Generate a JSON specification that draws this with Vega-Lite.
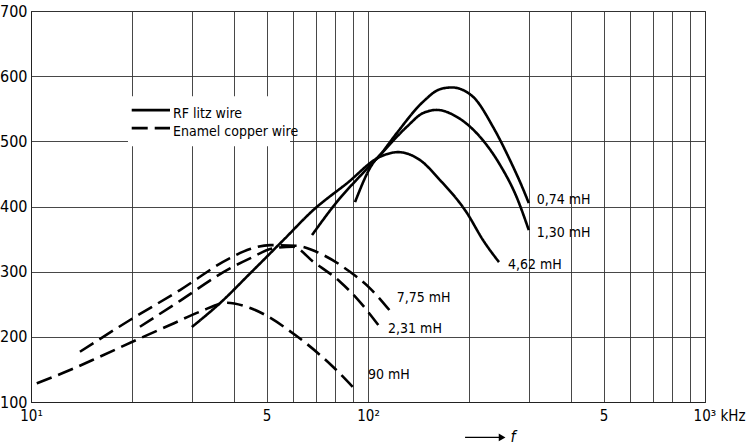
{
  "$schema": "https://vega.github.io/schema/vega-lite/v6.json",
  "width": 674,
  "height": 391,
  "autosize": {"type": "none"},
  "padding": {"left": 31, "top": 11, "right": 41, "bottom": 45},
  "background": "white",
  "config": {
    "view": {"stroke": "#222", "strokeWidth": 1},
    "font": "DejaVu Sans Condensed, DejaVu Sans, sans-serif"
  },
  "datasets": {
    "curves": [
      {"curve": "0,74 mH", "type": "RF litz wire", "f": 91.5, "L": 406.7},
      {"curve": "0,74 mH", "type": "RF litz wire", "f": 103.5, "L": 466.6},
      {"curve": "0,74 mH", "type": "RF litz wire", "f": 108.5, "L": 478.8},
      {"curve": "0,74 mH", "type": "RF litz wire", "f": 121.7, "L": 512.6},
      {"curve": "0,74 mH", "type": "RF litz wire", "f": 145.6, "L": 560.6},
      {"curve": "0,74 mH", "type": "RF litz wire", "f": 163.6, "L": 580.0},
      {"curve": "0,74 mH", "type": "RF litz wire", "f": 177.2, "L": 582.7},
      {"curve": "0,74 mH", "type": "RF litz wire", "f": 205.0, "L": 568.3},
      {"curve": "0,74 mH", "type": "RF litz wire", "f": 234.9, "L": 522.2},
      {"curve": "0,74 mH", "type": "RF litz wire", "f": 263.8, "L": 471.2},
      {"curve": "0,74 mH", "type": "RF litz wire", "f": 288.4, "L": 427.0},
      {"curve": "0,74 mH", "type": "RF litz wire", "f": 300.0, "L": 405.2},

      {"curve": "1,30 mH", "type": "RF litz wire", "f": 68.2, "L": 356.1},
      {"curve": "1,30 mH", "type": "RF litz wire", "f": 82.6, "L": 412.9},
      {"curve": "1,30 mH", "type": "RF litz wire", "f": 94.7, "L": 446.6},
      {"curve": "1,30 mH", "type": "RF litz wire", "f": 108.5, "L": 478.8},
      {"curve": "1,30 mH", "type": "RF litz wire", "f": 130.3, "L": 522.2},
      {"curve": "1,30 mH", "type": "RF litz wire", "f": 145.6, "L": 543.3},
      {"curve": "1,30 mH", "type": "RF litz wire", "f": 159.9, "L": 548.2},
      {"curve": "1,30 mH", "type": "RF litz wire", "f": 183.4, "L": 537.6},
      {"curve": "1,30 mH", "type": "RF litz wire", "f": 214.9, "L": 506.9},
      {"curve": "1,30 mH", "type": "RF litz wire", "f": 246.4, "L": 464.0},
      {"curve": "1,30 mH", "type": "RF litz wire", "f": 276.3, "L": 414.0},
      {"curve": "1,30 mH", "type": "RF litz wire", "f": 300.0, "L": 363.8},

      {"curve": "4,62 mH", "type": "RF litz wire", "f": 30.0, "L": 215.0},
      {"curve": "4,62 mH", "type": "RF litz wire", "f": 36.4, "L": 251.8},
      {"curve": "4,62 mH", "type": "RF litz wire", "f": 44.7, "L": 297.4},
      {"curve": "4,62 mH", "type": "RF litz wire", "f": 56.1, "L": 348.5},
      {"curve": "4,62 mH", "type": "RF litz wire", "f": 68.8, "L": 394.5},
      {"curve": "4,62 mH", "type": "RF litz wire", "f": 86.5, "L": 435.4},
      {"curve": "4,62 mH", "type": "RF litz wire", "f": 108.5, "L": 476.2},
      {"curve": "4,62 mH", "type": "RF litz wire", "f": 122.8, "L": 483.4},
      {"curve": "4,62 mH", "type": "RF litz wire", "f": 142.7, "L": 471.2},
      {"curve": "4,62 mH", "type": "RF litz wire", "f": 163.6, "L": 440.5},
      {"curve": "4,62 mH", "type": "RF litz wire", "f": 196.7, "L": 389.9},
      {"curve": "4,62 mH", "type": "RF litz wire", "f": 219.4, "L": 348.5},
      {"curve": "4,62 mH", "type": "RF litz wire", "f": 244.7, "L": 314.7},

      {"curve": "7,75 mH", "type": "Enamel copper wire", "f": 13.97, "L": 177.1},
      {"curve": "7,75 mH", "type": "Enamel copper wire", "f": 19.67, "L": 225.8},
      {"curve": "7,75 mH", "type": "Enamel copper wire", "f": 27.68, "L": 271.8},
      {"curve": "7,75 mH", "type": "Enamel copper wire", "f": 38.95, "L": 320.9},
      {"curve": "7,75 mH", "type": "Enamel copper wire", "f": 44.66, "L": 334.7},
      {"curve": "7,75 mH", "type": "Enamel copper wire", "f": 51.2, "L": 340.8},
      {"curve": "7,75 mH", "type": "Enamel copper wire", "f": 61.4, "L": 339.7},
      {"curve": "7,75 mH", "type": "Enamel copper wire", "f": 73.7, "L": 325.5},
      {"curve": "7,75 mH", "type": "Enamel copper wire", "f": 88.4, "L": 299.8},
      {"curve": "7,75 mH", "type": "Enamel copper wire", "f": 101.4, "L": 274.4},
      {"curve": "7,75 mH", "type": "Enamel copper wire", "f": 116.2, "L": 240.0},

      {"curve": "2,31 mH", "type": "Enamel copper wire", "f": 21.05, "L": 215.5},
      {"curve": "2,31 mH", "type": "Enamel copper wire", "f": 27.68, "L": 255.3},
      {"curve": "2,31 mH", "type": "Enamel copper wire", "f": 38.95, "L": 305.1},
      {"curve": "2,31 mH", "type": "Enamel copper wire", "f": 44.66, "L": 320.4},
      {"curve": "2,31 mH", "type": "Enamel copper wire", "f": 52.25, "L": 335.7},
      {"curve": "2,31 mH", "type": "Enamel copper wire", "f": 59.9, "L": 338.2},
      {"curve": "2,31 mH", "type": "Enamel copper wire", "f": 68.8, "L": 315.2},
      {"curve": "2,31 mH", "type": "Enamel copper wire", "f": 82.6, "L": 284.5},
      {"curve": "2,31 mH", "type": "Enamel copper wire", "f": 92.6, "L": 259.0},
      {"curve": "2,31 mH", "type": "Enamel copper wire", "f": 107.3, "L": 218.1},

      {"curve": "90 mH", "type": "Enamel copper wire", "f": 10.4, "L": 128.7},
      {"curve": "90 mH", "type": "Enamel copper wire", "f": 13.05, "L": 149.0},
      {"curve": "90 mH", "type": "Enamel copper wire", "f": 16.0, "L": 169.5},
      {"curve": "90 mH", "type": "Enamel copper wire", "f": 21.05, "L": 197.7},
      {"curve": "90 mH", "type": "Enamel copper wire", "f": 25.85, "L": 218.1},
      {"curve": "90 mH", "type": "Enamel copper wire", "f": 31.7, "L": 238.5},
      {"curve": "90 mH", "type": "Enamel copper wire", "f": 38.1, "L": 252.3},
      {"curve": "90 mH", "type": "Enamel copper wire", "f": 44.7, "L": 244.2},
      {"curve": "90 mH", "type": "Enamel copper wire", "f": 61.4, "L": 201.2},
      {"curve": "90 mH", "type": "Enamel copper wire", "f": 78.7, "L": 154.1},
      {"curve": "90 mH", "type": "Enamel copper wire", "f": 91.5, "L": 119.5}
    ],
    "labels": [
      {"label": "0,74 mH", "f": 316.7, "L": 409.8},
      {"label": "1,30 mH", "f": 316.7, "L": 359.2},
      {"label": "4,62 mH", "f": 260.3, "L": 310.1},
      {"label": "7,75 mH", "f": 121.7, "L": 259.5},
      {"label": "2,31 mH", "f": 114.7, "L": 212.0},
      {"label": "90 mH", "f": 100.0, "L": 141.4}
    ]
  },
  "layer": [
    {
      "data": {"name": "curves"},
      "mark": {"type": "line", "interpolate": "monotone", "strokeWidth": 2.6, "color": "black", "strokeCap": "butt"},
      "encoding": {
        "x": {
          "field": "f", "type": "quantitative",
          "scale": {"type": "log", "domain": [10, 1000], "nice": false},
          "axis": {
            "title": null,
            "values": [10, 20, 30, 40, 50, 60, 70, 80, 90, 100, 200, 300, 400, 500, 600, 700, 800, 900, 1000],
            "labelExpr": "datum.value == 10 ? '10¹' : datum.value == 50 ? '5' : datum.value == 100 ? '10²' : datum.value == 500 ? '5' : datum.value == 1000 ? '10³ kHz' : ''",
            "labelAlign": {"condition": {"test": "datum.value == 1000", "value": "right"}, "value": "center"},
            "labelOffset": {"condition": {"test": "datum.value == 1000", "value": 40}, "value": 0},
            "labelOverlap": false,
            "labelFontSize": 15,
            "labelColor": "black",
            "labelPadding": 6,
            "ticks": false,
            "domain": true,
            "domainColor": "#222",
            "grid": true,
            "gridColor": "#333",
            "gridWidth": 0.9
          }
        },
        "y": {
          "field": "L", "type": "quantitative",
          "scale": {"domain": [100, 700], "nice": false, "zero": false},
          "axis": {
            "title": null,
            "values": [100, 150, 200, 250, 300, 350, 400, 450, 500, 550, 600, 650, 700],
            "labelExpr": "datum.value % 100 == 0 ? datum.label : ''",
            "labelFontSize": 16,
            "labelColor": "black",
            "labelPadding": 4,
            "ticks": false,
            "domain": true,
            "domainColor": "#222",
            "grid": true,
            "gridColor": "#333",
            "gridWidth": 0.9
          }
        },
        "detail": {"field": "curve"},
        "strokeDash": {
          "field": "type",
          "scale": {"domain": ["RF litz wire", "Enamel copper wire"], "range": [[1, 0], [16, 7]]},
          "legend": null
        }
      }
    },
    {
      "data": {"values": [{}]},
      "mark": {"type": "rect", "color": "white", "opacity": 1},
      "encoding": {
        "x": {"datum": 19.4, "type": "quantitative"},
        "x2": {"datum": 58.7},
        "y": {"datum": 569.3, "type": "quantitative"},
        "y2": {"datum": 492.6}
      }
    },
    {
      "data": {"values": [{}]},
      "mark": {"type": "rule", "color": "black", "strokeWidth": 2.6},
      "encoding": {
        "x": {"datum": 19.9, "type": "quantitative"},
        "x2": {"datum": 25.85},
        "y": {"datum": 547.9, "type": "quantitative"}
      }
    },
    {
      "data": {"values": [{}]},
      "mark": {"type": "rule", "color": "black", "strokeWidth": 2.6, "strokeDash": [16, 7]},
      "encoding": {
        "x": {"datum": 19.9, "type": "quantitative"},
        "x2": {"datum": 25.85},
        "y": {"datum": 520.2, "type": "quantitative"}
      }
    },
    {
      "data": {"values": [{}]},
      "mark": {"type": "text", "text": "RF litz wire", "align": "left", "baseline": "middle", "fontSize": 14, "color": "black"},
      "encoding": {
        "x": {"datum": 26.4, "type": "quantitative"},
        "y": {"datum": 542, "type": "quantitative"}
      }
    },
    {
      "data": {"values": [{}]},
      "mark": {"type": "text", "text": "Enamel copper wire", "align": "left", "baseline": "middle", "fontSize": 14, "color": "black"},
      "encoding": {
        "x": {"datum": 26.4, "type": "quantitative"},
        "y": {"datum": 514, "type": "quantitative"}
      }
    },
    {
      "data": {"name": "labels"},
      "mark": {"type": "text", "align": "left", "baseline": "middle", "fontSize": 14, "color": "black"},
      "encoding": {
        "x": {"field": "f", "type": "quantitative"},
        "y": {"field": "L", "type": "quantitative"},
        "text": {"field": "label"}
      }
    },
    {
      "data": {"values": [{}]},
      "mark": {"type": "rule", "color": "black", "strokeWidth": 1.2},
      "encoding": {
        "x": {"datum": 194.1, "type": "quantitative"},
        "x2": {"datum": 248},
        "y": {"datum": 45.6, "type": "quantitative"}
      }
    },
    {
      "data": {"values": [{}]},
      "mark": {"type": "point", "shape": "triangle-right", "filled": true, "color": "black", "size": 60, "opacity": 1},
      "encoding": {
        "x": {"datum": 250, "type": "quantitative"},
        "y": {"datum": 45.6, "type": "quantitative"}
      }
    },
    {
      "data": {"values": [{}]},
      "mark": {"type": "text", "text": "f", "align": "left", "baseline": "middle", "fontSize": 16, "fontStyle": "italic", "color": "black"},
      "encoding": {
        "x": {"datum": 264.7, "type": "quantitative"},
        "y": {"datum": 45.6, "type": "quantitative"}
      }
    }
  ]
}
